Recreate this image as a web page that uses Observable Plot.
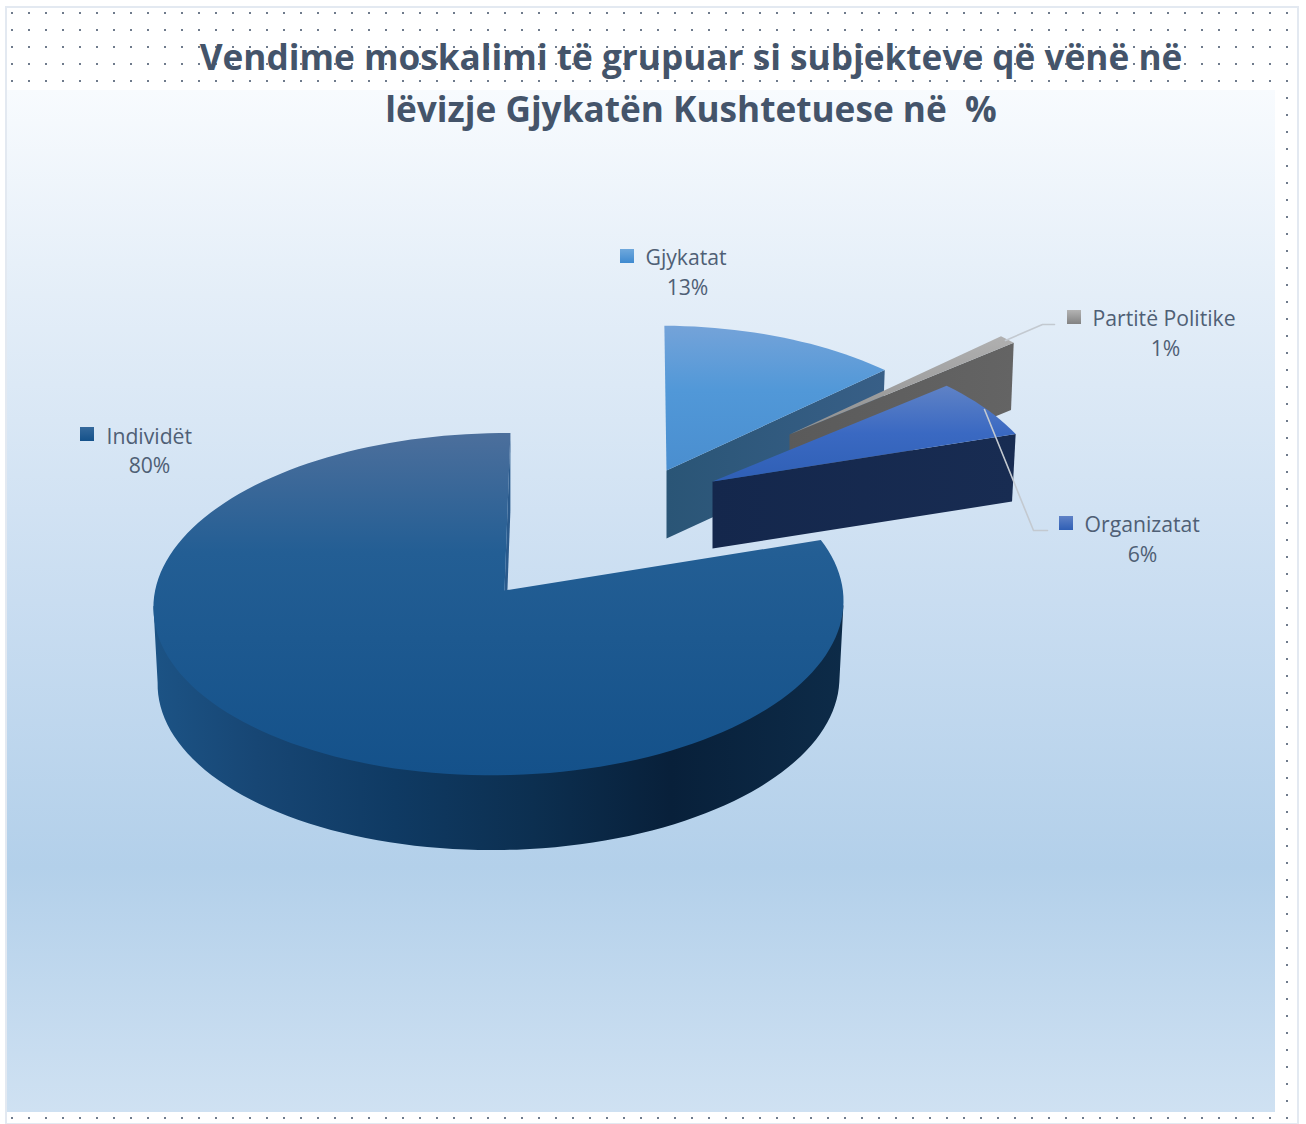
<!DOCTYPE html>
<html>
<head>
<meta charset="utf-8">
<script src="https://cdn.jsdelivr.net/npm/d3@7"></script>
<script src="https://cdn.jsdelivr.net/npm/@observablehq/plot@0.6"></script>
<style>html,body{margin:0;padding:0;background:#fff}svg{display:block}</style>
</head>
<body>
<div id="chart"></div>
<script>
const titleLines = ["Vendime moskalimi të grupuar si subjekteve që vënë në", "lëvizje Gjykatën Kushtetuese në  %"];
const categories = ["Gjykatat", "Partitë Politike", "Organizatat", "Individët"];
const shares = [13, 1, 6, 80];

// Layout of the tilted pie (not data): apex of each slice, perspective scale, lean and wall height
const R = 343.8, K = 170, P = 0.08, Q = 0.016;
const layout = {
  "Gjykatat":         {ax: 666, ay: 470, s: 0.935, sy: 0.92, lean: -2.3, h: 68, top: "gGjyTop", wall: "gGjyWall", sq: [620, 249], lx: 645, ly: 257.5, px: 687, py: 287.5},
  "Partitë Politike": {ax: 789, ay: 434, s: 0.90,  sy: 0.90, lean: 0,    h: 66, top: "gGreyTop", wall: "gGreyWall", sq: [1067, 310], lx: 1092, ly: 318.5, px: 1165, py: 348.5},
  "Organizatat":      {ax: 712, ay: 481, s: 0.98,  sy: 0.94, lean: -16.7, h: 67, top: "gOrgTop", wall: "gOrgWall", sq: [1059, 516], lx: 1084, ly: 524.5, px: 1142, py: 554.5},
  "Individët":        {ax: 504, ay: 590, s: 1,     sy: 1,    lean: 6.4,  h: 77, top: "gIndTop", wall: "gIndWall", sq: [80, 427], lx: 106, ly: 436.5, px: 149, py: 465.5}
};

const total = d3.sum(shares);
const ends = d3.cumsum(shares).map(v => v / total * 360);
const starts = [0, ...ends.slice(0, -1)];

const rad = d => d * Math.PI / 180;
function rim(l, deg) {
  const X = Math.sin(rad(deg)), Z = Math.cos(rad(deg)), den = 1 + P * Z + Q * X;
  return [l.ax + (R * l.s * X + l.lean * Z) / den, l.ay - K * l.sy * Z / den];
}
const lower = (l, p) => [l.ax + (p[0] - l.ax) * 0.988, l.ay + (p[1] - l.ay) * 0.988 + l.h];
const inset = (l, p) => [l.ax + (p[0] - l.ax) * 0.985, l.ay + (p[1] - l.ay) * 0.985];
const apex = l => [l.ax, l.ay];
function arc(l, a, b) {
  const n = Math.max(2, Math.ceil(Math.abs(b - a) / 2));
  return d3.range(n + 1).map(i => rim(l, a + (b - a) * i / n));
}

const marks = [];
const poly = (pts, fill) => marks.push(Plot.line(pts, {x: d => d[0], y: d => d[1], fill, stroke: "none", curve: "linear-closed"}));

const defs = () => {
  const g = d3.create("svg:defs");
  const lin = (id, horiz, stops) =>
    `<linearGradient id="${id}" x1="0" y1="0" x2="${horiz ? 1 : 0}" y2="${horiz ? 0 : 1}">` +
    stops.map(([o, c]) => `<stop offset="${o}" stop-color="${c}"/>`).join("") + `</linearGradient>`;
  g.html(
    `<pattern id="dots" patternUnits="userSpaceOnUse" width="17" height="17">
       <rect x="11" y="12" width="2" height="2" fill="#6f7b8c"/>
       <rect x="19" y="21" width="3" height="1" fill="#7d8898"/>
     </pattern>` +
    lin("gPanel", false, [[0, "#f8fbfe"], [0.2, "#e4eef8"], [0.5, "#c9ddf1"], [0.76, "#b3d0ea"], [1, "#cfe1f2"]]) +
    lin("gIndTop", false, [[0, "#4c6f9c"], [0.35, "#235e94"], [0.6, "#1d5990"], [1, "#14518a"]]) +
    lin("gIndWall", true, [[0, "#1c5385"], [0.15, "#174674"], [0.35, "#0f3a63"], [0.55, "#0c2f50"], [0.75, "#08203a"], [1, "#0d2b48"]]) +
    lin("gGjyTop", false, [[0, "#74a3d9"], [0.45, "#5198d8"], [1, "#4a8ecf"]]) +
    lin("gGjyWall", true, [[0, "#2a5576"], [1, "#385f87"]]) +
    lin("gGreyTop", false, [[0, "#b0b0b0"], [1, "#8f8f8f"]]) +
    lin("gGreyWall", true, [[0, "#5a5a5a"], [1, "#646464"]]) +
    lin("gOrgTop", false, [[0, "#5f82c6"], [0.5, "#3a69c2"], [1, "#2f5fb5"]]) +
    lin("gOrgWall", true, [[0, "#14274c"], [1, "#182c52"]]) +
    lin("gSq0", false, [[0, "#6fa8dc"], [1, "#3f8ad0"]]) +
    lin("gSq1", false, [[0, "#b3b3b3"], [1, "#828282"]]) +
    lin("gSq2", false, [[0, "#5f82c6"], [1, "#2f5fb5"]]) +
    lin("gSq3", false, [[0, "#35699c"], [1, "#14518a"]])
  );
  return g.node();
};
marks.push(defs);

// page furniture: white page, thin border, dotted band, gradient panel
marks.push(Plot.rect([{x1: 0, x2: 1306, y1: 0, y2: 1124}], {x1: "x1", x2: "x2", y1: "y1", y2: "y2", fill: "#ffffff"}));
marks.push(Plot.rect([{x1: 6, x2: 1298, y1: 7, y2: 1124}], {x1: "x1", x2: "x2", y1: "y1", y2: "y2", fill: "url(#dots)", stroke: "#e3e9f1", strokeWidth: 2}));
marks.push(Plot.rect([{x1: 7, x2: 1275, y1: 90, y2: 1112}], {x1: "x1", x2: "x2", y1: "y1", y2: "y2", fill: "url(#gPanel)"}));

// Individët first, then slices back to front
const order = ["Individët", "Gjykatat", "Partitë Politike", "Organizatat"];
for (const name of order) {
  const i = categories.indexOf(name), l = layout[name];
  if (name === "Individët") {
    // outer wall between the two silhouette points of the rim
    const up = arc(l, 95, 265);
    const last = up.length - 1;
    poly([...up.map((p, j) => j === 0 || j === last ? p : inset(l, p)), ...up.map(p => lower(l, p)).reverse()], `url(#${l.wall})`);
    const t = rim(l, 0);
    poly([t, apex(l), lower(l, apex(l)), lower(l, t)], "#2a5a8c");
  } else {
    const e = rim(l, ends[i]);
    poly([apex(l), e, lower(l, e), lower(l, apex(l))], `url(#${l.wall})`);
  }
  poly([apex(l), ...arc(l, starts[i], ends[i])], `url(#${l.top})`);
}

// leader lines
const leaders = [
  {id: 1, pts: [[1005, 340], [1042, 324], [1054, 324]]},
  {id: 2, pts: [[984, 409], [1033, 530], [1047, 530]]}
];
marks.push(Plot.line(leaders.flatMap(d => d.pts.map(p => ({id: d.id, x: p[0], y: p[1]}))),
  {x: "x", y: "y", z: "id", stroke: "#c3c9d0", strokeWidth: 1.6, curve: "linear"}));

// labels and key squares
const rows = categories.map((c, i) => ({c, i, pct: shares[i] + "%", ...layout[c]}));
marks.push(Plot.rect(rows, {x1: d => d.sq[0], x2: d => d.sq[0] + 14, y1: d => d.sq[1], y2: d => d.sq[1] + 14, fill: d => `url(#gSq${d.i})`}));
const fam = "'Open Sans', 'Noto Sans', sans-serif";
marks.push(Plot.text(rows, {x: "lx", y: "ly", text: "c", textAnchor: "start", lineAnchor: "middle", fontSize: 21.2, fontFamily: fam, fill: "#4f5f75"}));
marks.push(Plot.text(rows, {x: "px", y: "py", text: "pct", textAnchor: "middle", lineAnchor: "middle", fontSize: 21.2, fontFamily: fam, fill: "#4f5f75"}));
marks.push(Plot.text(titleLines.map((t, i) => ({t, y: [58.5, 110][i]})), {x: () => 690.5, y: "y", text: "t", textAnchor: "middle", lineAnchor: "middle", fontSize: 35.2, fontWeight: 700, fontFamily: fam, fill: "#44546a"}));

const chart = Plot.plot({
  width: 1306, height: 1124,
  margin: 0,
  x: {type: "linear", domain: [0, 1306], range: [0, 1306], axis: null},
  y: {type: "linear", domain: [0, 1124], range: [0, 1124], axis: null},
  style: {background: "#fff", whiteSpace: "pre"},
  marks
});
document.getElementById("chart").append(chart);
</script>
</body>
</html>
